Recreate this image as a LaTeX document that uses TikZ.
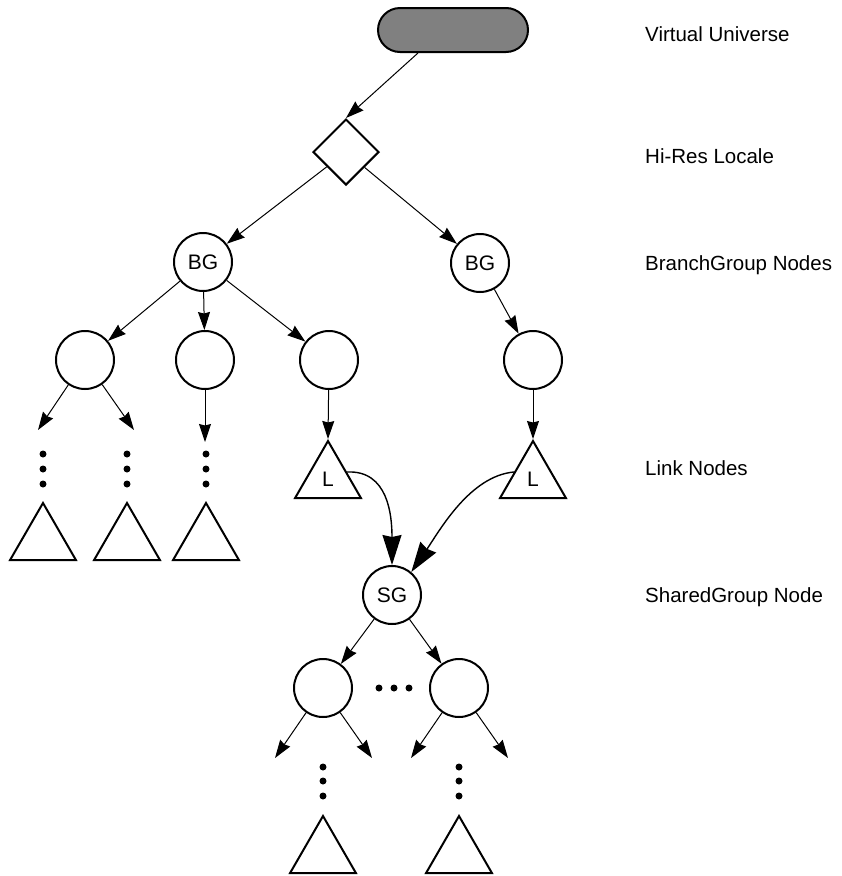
\documentclass[tikz,border=0pt]{standalone}
\usepackage{fontspec}
\setmainfont{Liberation Sans}
\usetikzlibrary{shapes.geometric,arrows.meta,calc}
\begin{document}
\begin{tikzpicture}[x=1pt,y=-1pt,
  shp/.style={draw, line width=2pt, inner sep=0pt},
  circ/.style={shp, circle, minimum size=58pt, font=\fontsize{21}{24}\selectfont},
  tri/.style={shp, regular polygon, regular polygon sides=3, minimum size=76pt, font=\fontsize{21}{24}\selectfont},
  arr/.style={line width=1pt, -{Stealth[length=18pt,width=12pt,inset=1.5pt]}},
  bigarr/.style={line width=1.4pt, -{Stealth[length=30pt,width=19pt,inset=2pt]}},
  lab/.style={anchor=base west, font=\fontsize{20.5}{24}\selectfont, inner sep=0pt},
  dot/.style={circle, fill, inner sep=0pt, minimum size=7pt}
]
\useasboundingbox (0,0) rectangle (842,876);

% top
\node[shp, fill=gray, rounded corners=22pt, minimum width=150pt, minimum height=44pt] (vu) at (453,30) {};
\node[shp, diamond, minimum width=66pt, minimum height=66pt] (dia) at (346,152) {};
\node[circ] (bgl) at (203,262) {BG};
\node[circ] (bgr) at (480,263) {BG};

\node[circ] (c1) at (85,360) {};
\node[circ] (c2) at (205,360) {};
\node[circ] (c3) at (329,360) {};
\node[circ] (c4) at (533,360) {};

\node[tri] (ll) at (328,479) {L};
\node[tri] (lr) at (533,479) {L};

\node[tri] (t1) at (43,541) {};
\node[tri] (t2) at (127,541) {};
\node[tri] (t3) at (206,541) {};

\node[circ] (sg) at (392,595) {SG};
\node[circ] (s1) at (323,688) {};
\node[circ] (s2) at (459,688) {};
\node[tri] (b1) at (323,854) {};
\node[tri] (b2) at (459,854) {};

% dots
\foreach \x in {43,127,206} \foreach \y in {454,469,484} \node[dot] (d-\x-\y) at (\x,\y) {};
\foreach \x in {323,459} \foreach \y in {767,781,796} \node[dot] (e-\x-\y) at (\x,\y) {};
\foreach \x in {379,394,409} \node[dot] (h-\x) at (\x,688) {};

% free ends
\coordinate (e1) at (38,430);
\coordinate (e2) at (134,430);
\coordinate (e3) at (205,442);
\coordinate (f1) at (275,758);
\coordinate (f2) at (372,758);
\coordinate (f3) at (411,758);
\coordinate (f4) at (508,758);

% connectors
\draw[arr] ($(vu.south)+(-35,0)$) -- (dia.north);
\draw[arr] (dia) -- (bgl);
\draw[arr] (dia) -- (bgr);
\draw[arr] (bgl) -- (c1);
\draw[arr] (bgl) -- (c2);
\draw[arr] (bgl) -- (c3);
\draw[arr] (bgr) -- (c4);
\draw[arr] (c1) -- (e1);
\draw[arr] (c1) -- (e2);
\draw[arr] (c2) -- (e3);
\draw[arr] (c3) -- (ll.corner 1);
\draw[arr] (c4) -- (lr.corner 1);
\draw[bigarr] ($(ll.corner 1)!0.55!(ll.corner 3)$) .. controls (388,470) and (392,515) .. (sg.north);
\draw[bigarr] ($(lr.corner 1)!0.55!(lr.corner 2)$) .. controls (470,476) and (440,530) .. (sg.50);
\draw[arr] (sg) -- (s1);
\draw[arr] (sg) -- (s2);
\draw[arr] (s1) -- (f1);
\draw[arr] (s1) -- (f2);
\draw[arr] (s2) -- (f3);
\draw[arr] (s2) -- (f4);

% labels
\node[lab] (l1) at (645,41.7) {Virtual Universe};
\node[lab] (l2) at (645,163) {Hi-Res Locale};
\node[lab] (l3) at (645,270) {BranchGroup Nodes};
\node[lab] (l4) at (645,475) {Link Nodes};
\node[lab] (l5) at (645,602) {SharedGroup Node};
\end{tikzpicture}
\end{document}
